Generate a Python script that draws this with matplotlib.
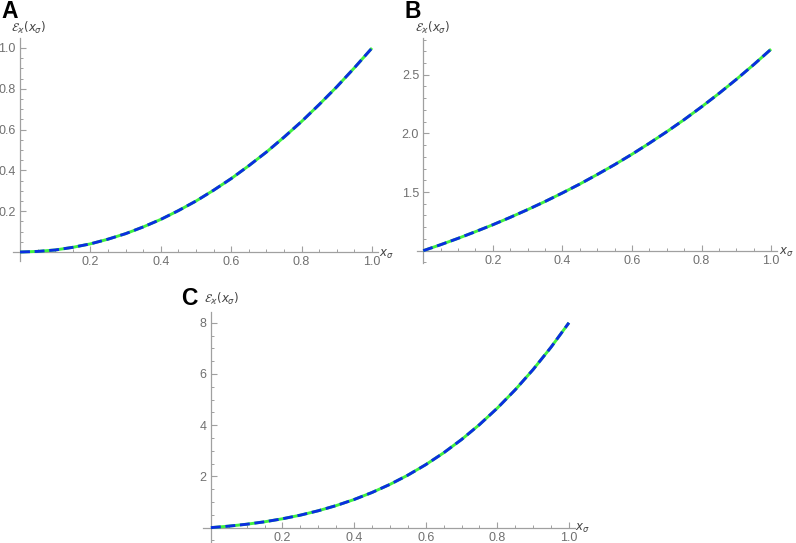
"""
Three panels: E_k(x_s) for the three cases, green solid with blue dashed overlay
"""

import matplotlib
matplotlib.use('Agg')
import matplotlib.pyplot as plt
from matplotlib.ticker import MultipleLocator

# Data (x in steps of 0.05)
x_vals = [0.00, 0.05, 0.10, 0.15, 0.20, 0.25, 0.30, 0.35, 0.40, 0.45, 0.50,
          0.55, 0.60, 0.65, 0.70, 0.75, 0.80, 0.85, 0.90, 0.95, 1.00]
y_a = [0.000, 0.003, 0.010, 0.023, 0.040, 0.063, 0.090, 0.123, 0.160, 0.203, 0.250,
       0.303, 0.360, 0.423, 0.490, 0.563, 0.640, 0.723, 0.810, 0.903, 1.000]
y_b = [1.000, 1.051, 1.105, 1.162, 1.221, 1.284, 1.350, 1.419, 1.492, 1.568, 1.649,
       1.733, 1.822, 1.916, 2.014, 2.117, 2.226, 2.340, 2.460, 2.586, 2.718]
y_c = [0.000, 0.058, 0.133, 0.228, 0.346, 0.488, 0.659, 0.861, 1.098, 1.372, 1.688,
       2.048, 2.458, 2.920, 3.439, 4.020, 4.666, 5.382, 6.173, 7.044, 8.000]

x_ticks = [0.2, 0.4, 0.6, 0.8, 1.0]
yticks_a = [0.2, 0.4, 0.6, 0.8, 1.0]
yticks_b = [1.5, 2.0, 2.5]
yticks_c = [2, 4, 6, 8]

W, H = 796, 543
fig = plt.figure(figsize=(W / 100, H / 100), dpi=100)

axis_col = '#a0a0a0'
label_col = '#707070'


def px_axes(left, top, right, bottom):
    # axes box given in pixel coords (origin top-left)
    return fig.add_axes([left / W, 1 - bottom / H, (right - left) / W, (bottom - top) / H])


def panel(box, ys, yticks, xlim, ylim, y0, minor_y, ylab_fmt, letter, letter_xy, ylab_xy, xlab_xy):
    ax = px_axes(*box)
    ax.plot(x_vals, ys, color='#40f040', lw=2.1, solid_capstyle='butt', zorder=3)
    ax.plot(x_vals, ys, color='#0a2ee0', lw=2.1, dashes=(3.4, 1.6), zorder=4)
    ax.set_xlim(*xlim)
    ax.set_ylim(*ylim)
    for s in ['top', 'right']:
        ax.spines[s].set_visible(False)
    ax.spines['left'].set_position(('data', 0))
    ax.spines['bottom'].set_position(('data', y0))
    for s in ['left', 'bottom']:
        ax.spines[s].set_color(axis_col)
        ax.spines[s].set_linewidth(0.9)
    ax.set_xticks(x_ticks)
    ax.set_xticklabels([f'{t:.1f}' for t in x_ticks])
    ax.xaxis.set_minor_locator(MultipleLocator(0.05))
    ax.set_yticks(yticks)
    ax.set_yticklabels([ylab_fmt.format(t) for t in yticks])
    ax.yaxis.set_minor_locator(MultipleLocator(minor_y))
    ax.tick_params(which='major', direction='in', length=4, width=0.8, color=axis_col,
                   labelsize=9, labelcolor=label_col, pad=3)
    ax.tick_params(which='minor', direction='in', length=2.5, width=0.7, color=axis_col)
    for lab in ax.get_xticklabels() + ax.get_yticklabels():
        lab.set_family('Liberation Sans')
    ax.patch.set_alpha(0)
    fig.text(letter_xy[0] / W, 1 - letter_xy[1] / H, letter, fontsize=16.5, fontweight='bold',
             family='Liberation Sans', va='top', ha='left')
    fig.text(ylab_xy[0] / W, 1 - ylab_xy[1] / H, r'$\mathcal{E}_{\varkappa}(x_{\sigma})$',
             fontsize=8.5, color='#404040', va='center', ha='left')
    fig.text(xlab_xy[0] / W, 1 - xlab_xy[1] / H, r'$x_{\sigma}$',
             fontsize=8.5, color='#404040', va='center', ha='left')
    return ax


# Panel A
panel((13, 38, 378, 261), y_a, yticks_a, (-0.02, 1.017), (-0.044, 1.049), 0, 0.05,
      '{:.1f}', 'A', (1, 0), (11, 27), (379, 254))

# Panel B
panel((417, 38, 777, 263), y_b, yticks_b, (-0.018, 1.017), (0.895, 2.813), 1.0, 0.1,
      '{:.1f}', 'B', (404, 0), (415, 27), (779, 252))

# Panel C
panel((203, 312, 575, 543), y_c, yticks_c, (-0.022, 1.017), (-0.6, 8.42), 0, 0.5,
      '{:d}', 'C', (181, 287), (204, 298), (575, 528))

plt.savefig('out.png', dpi=100)
plt.close()
